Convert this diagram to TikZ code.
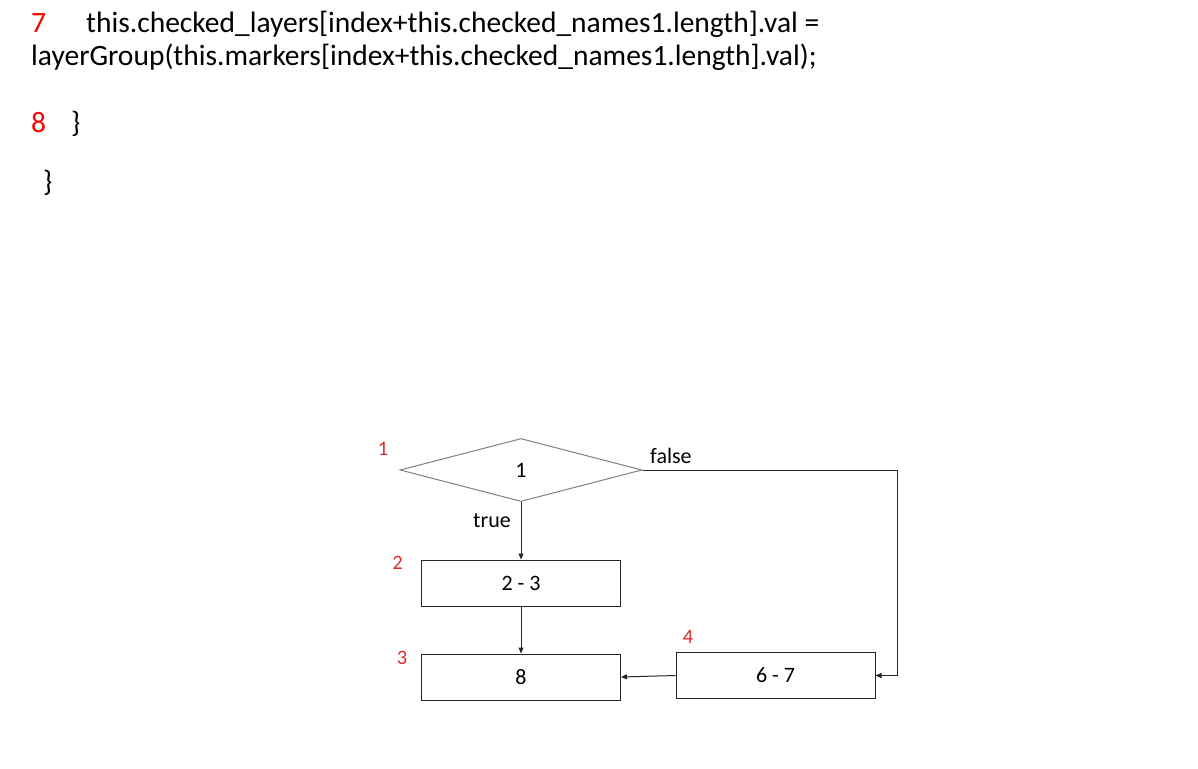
\documentclass[tikz,border=0pt]{standalone}
\usepackage{fontspec}
\setmainfont{Carlito}
\usetikzlibrary{shapes.geometric,arrows.meta}
\definecolor{codered}{RGB}{255,0,0}
\definecolor{labred}{RGB}{220,45,45}
\tikzset{
  code/.style={inner sep=0pt,font=\fontsize{29.5}{35}\selectfont},
  dia/.style={font=\fontsize{22}{26}\selectfont},
  lab/.style={inner sep=0pt,text=labred,font=\fontsize{20.5}{24}\selectfont},
  stepbox/.style={draw=black!85,line width=1pt,minimum width=199pt,minimum height=46pt,inner sep=0pt,dia},
  decis/.style={diamond,draw=gray,line width=1pt,minimum width=242pt,minimum height=63pt,aspect=3.84,inner sep=0pt,dia},
  arr/.style={draw=black!85,line width=1pt,-{Triangle[length=6pt,width=5pt]}}
}
\begin{document}
\begin{tikzpicture}[x=1pt,y=-1pt]
\useasboundingbox[fill=white] (0,0) rectangle (1198,768);
% code text
\node[code,anchor=base west,text=codered] (n7) at (31,33) {7};
\node[code,anchor=base west] (l1) at (86,33) {this.checked\_layers[index+this.checked\_names1.length].val =};
\node[code,anchor=base west] (l2) at (31,65) {layerGroup(this.markers[index+this.checked\_names1.length].val);};
\node[code,anchor=base west,text=codered] (n8) at (31,132) {8};
\node[code,anchor=base west] (b8) at (71,132) {\}};
\node[code,anchor=base west] (bend) at (43,191) {\}};
% flowchart
\node[decis] (d) at (521,470) {1};
\node[stepbox] (b2) at (521,583) {2 - 3};
\node[stepbox] (b3) at (521,677) {8};
\node[stepbox] (b4) at (775.5,675.5) {6 - 7};
\coordinate (c) at (897,600);
\draw[arr] (d.south) -- (b2.north);
\draw[arr] (b2.south) -- (b3.north);
\draw[arr] (b4.west) -- (b3.east);
\draw[arr] (d.east) -| (c) |- (b4.east);
\node[dia,inner sep=0pt,anchor=base west] (t) at (473,527) {true};
\node[dia,inner sep=0pt,anchor=base west] (f) at (650,463) {false};
\node[lab] (r1) at (383,448.5) {1};
\node[lab] (r2) at (397.5,562.5) {2};
\node[lab] (r3) at (402,658) {3};
\node[lab] (r4) at (688,636.5) {4};
\end{tikzpicture}
\end{document}
